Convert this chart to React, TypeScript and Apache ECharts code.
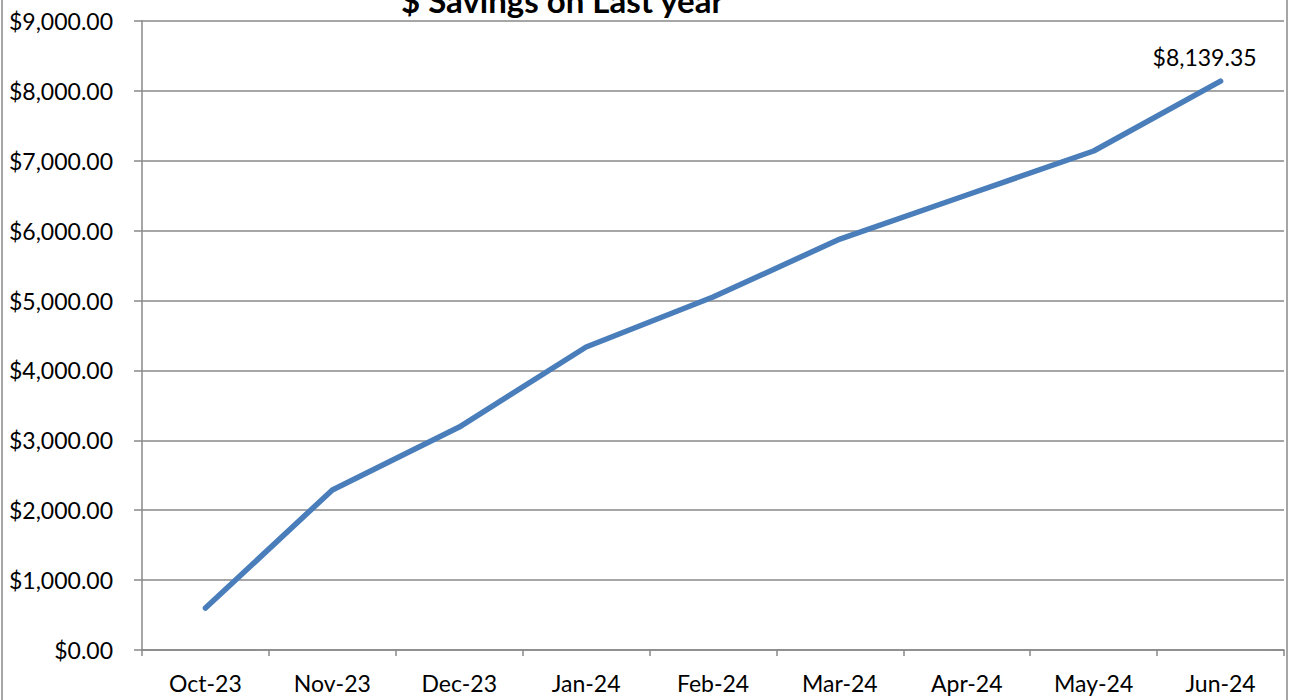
import React, { useEffect, useRef } from "react";
import * as echarts from "echarts";

const categories = ["Oct-23", "Nov-23", "Dec-23", "Jan-24", "Feb-24", "Mar-24", "Apr-24", "May-24", "Jun-24"];
const savings = [600, 2290, 3190, 4335, 5050, 5880, 6510, 7140, 8139.35];
const titleText = "$ Savings on Last year";
const yMin = 0;
const yMax = 9000;
const yInterval = 1000;

const FONT = "Lato, 'Open Sans', sans-serif";

function money(v: number) {
  return "$" + v.toLocaleString("en-US", { minimumFractionDigits: 2, maximumFractionDigits: 2 });
}

export default function App() {
  const ref = useRef<HTMLDivElement>(null);
  useEffect(() => {
    if (!ref.current) return;
    const chart = echarts.init(ref.current, undefined, { renderer: "svg" });
    const last = savings.length - 1;
    chart.setOption({
      animation: false,
      backgroundColor: "#fff",
      title: {
        text: titleText,
        left: 396,
        top: -22,
        textStyle: { fontFamily: FONT, fontSize: 33, fontWeight: "bold", color: "#000" },
      },
      grid: { left: 142, right: 7, top: 21, bottom: 50, containLabel: false },
      xAxis: {
        type: "category",
        data: categories,
        boundaryGap: true,
        axisLine: { show: true, lineStyle: { color: "#888", width: 1.5 } },
        axisTick: { show: true, length: 6, alignWithLabel: false, lineStyle: { color: "#888", width: 1.5 } },
        axisLabel: { color: "#000", fontFamily: FONT, fontSize: 23, margin: 21, interval: 0 },
        splitLine: { show: false },
      },
      yAxis: {
        type: "value",
        min: yMin,
        max: yMax,
        interval: yInterval,
        axisLine: { show: true, lineStyle: { color: "#888", width: 1.5 } },
        axisTick: { show: true, length: 8, lineStyle: { color: "#888", width: 1.5 } },
        axisLabel: { color: "#000", fontFamily: FONT, fontSize: 23, margin: 29, formatter: (v: number) => money(v) },
        splitLine: { show: true, lineStyle: { color: "#888", width: 1.5 } },
      },
      series: [
        {
          type: "line",
          data: savings.map((v, i) =>
            i === last
              ? {
                  value: v,
                  label: {
                    show: true,
                    position: "top",
                    offset: [-16, -8],
                    formatter: (p: any) => money(p.value),
                    color: "#000",
                    fontFamily: FONT,
                    fontSize: 23,
                  },
                }
              : v
          ),
          showSymbol: true,
          symbol: "circle",
          symbolSize: 0,
          lineStyle: { color: "#4a7ebb", width: 5.5, cap: "round", join: "round" },
          itemStyle: { color: "#4a7ebb" },
        },
      ],
      graphic: [
        { type: "line", shape: { x1: 2, y1: 0, x2: 2, y2: 700 }, style: { stroke: "#888", lineWidth: 1.5 } },
        { type: "line", shape: { x1: 1287, y1: 0, x2: 1287, y2: 700 }, style: { stroke: "#888", lineWidth: 1.5 } },
      ],
    });
    return () => chart.dispose();
  }, []);
  return <div ref={ref} style={{ position: "fixed", left: 0, top: 0, width: 1291, height: 700 }} />;
}
